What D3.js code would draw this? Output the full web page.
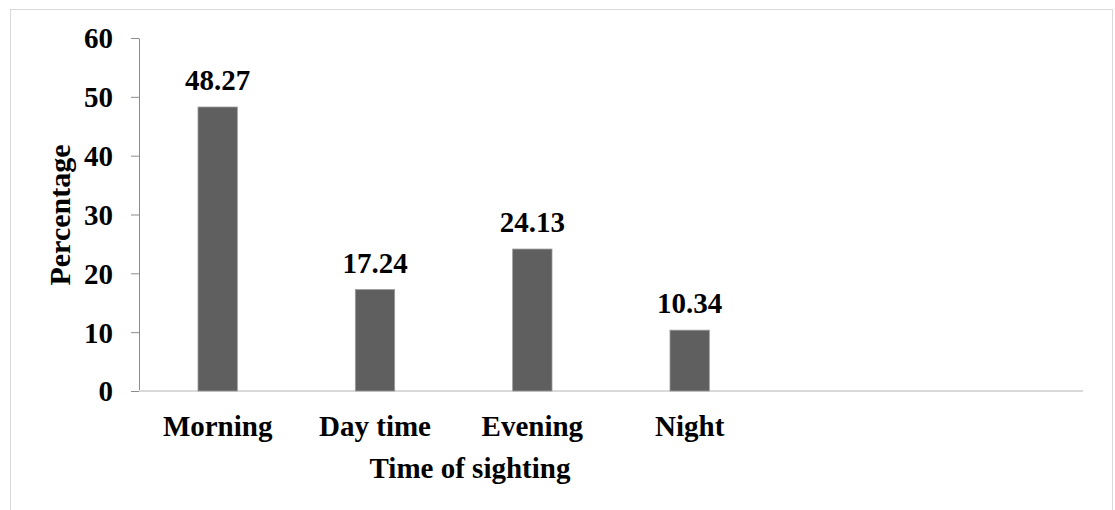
<!DOCTYPE html>
<html><head><meta charset="utf-8">
<script src="https://cdn.jsdelivr.net/npm/d3@7"></script>
<style>body{margin:0;background:#fff}svg{display:block}</style>
</head><body>
<script>
const categories = ["Morning", "Day time", "Evening", "Night", "", " "];
const values = [48.27, 17.24, 24.13, 10.34, null, null];
const valueLabels = ["48.27", "17.24", "24.13", "10.34", "", ""];
const yTicks = [0, 10, 20, 30, 40, 50, 60];
const xTitle = "Time of sighting";
const yTitle = "Percentage";

const FONT = '"Liberation Serif"';
function tf(sel, size) {
  return sel.style("font-family", FONT).style("font-weight", "bold")
    .style("font-size", size + "px").style("fill", "#000");
}

const W = 1115, H = 510;
const svg = d3.select("body").append("svg").attr("width", W).attr("height", H);

svg.append("rect").attr("x", 10.5).attr("y", 9.5).attr("width", 1102).attr("height", 520)
  .attr("fill", "none").attr("stroke", "#d9d9d9").attr("stroke-width", 1);

const x = d3.scaleBand().domain(categories).range([139, 1083]).padding(0);
const y = d3.scaleLinear().domain([0, 60]).range([391, 38]);
const barW = x.bandwidth() * 0.25;

// y axis
const ya = svg.append("g").attr("transform", "translate(139,0)")
  .call(d3.axisLeft(y).tickValues(yTicks).tickSize(8).tickPadding(18).tickSizeOuter(0));
ya.select(".domain").attr("stroke", "#8c8c8c");
ya.selectAll(".tick line").attr("stroke", "#8c8c8c");
tf(ya.selectAll(".tick text"), 29).attr("dy", "0.34em");

// x axis line
svg.append("line").attr("x1", 139).attr("x2", 1083).attr("y1", y(0)).attr("y2", y(0))
  .attr("stroke", "#d9d9d9").attr("stroke-width", 2);

const data = categories.map((c, i) => ({c, v: values[i], l: valueLabels[i]}));

svg.selectAll("rect.bar").data(data.filter(d => d.v != null)).enter().append("rect")
  .attr("class", "bar")
  .attr("x", d => x(d.c) + x.bandwidth() / 2 - barW / 2)
  .attr("y", d => y(d.v))
  .attr("width", barW)
  .attr("height", d => y(0) - y(d.v))
  .attr("fill", "#5f5f5f").attr("stroke", "#9a9a9a").attr("stroke-width", 0.8);

tf(svg.selectAll("text.val").data(data.filter(d => d.v != null)).enter().append("text")
  .attr("class", "val")
  .attr("x", d => x(d.c) + x.bandwidth() / 2)
  .attr("y", d => y(d.v) - 17)
  .attr("text-anchor", "middle"), 29)
  .text(d => d.l);

tf(svg.selectAll("text.cat").data(data.filter(d => d.c.trim() !== "")).enter().append("text")
  .attr("class", "cat")
  .attr("x", d => x(d.c) + x.bandwidth() / 2)
  .attr("y", 436)
  .attr("text-anchor", "middle"), 29)
  .text(d => d.c);

tf(svg.append("text").attr("x", 470).attr("y", 478).attr("text-anchor", "middle"), 29).text(xTitle);

tf(svg.append("text").attr("transform", "translate(70,215) rotate(-90)")
  .attr("text-anchor", "middle"), 30).text(yTitle);
</script>
</body></html>
